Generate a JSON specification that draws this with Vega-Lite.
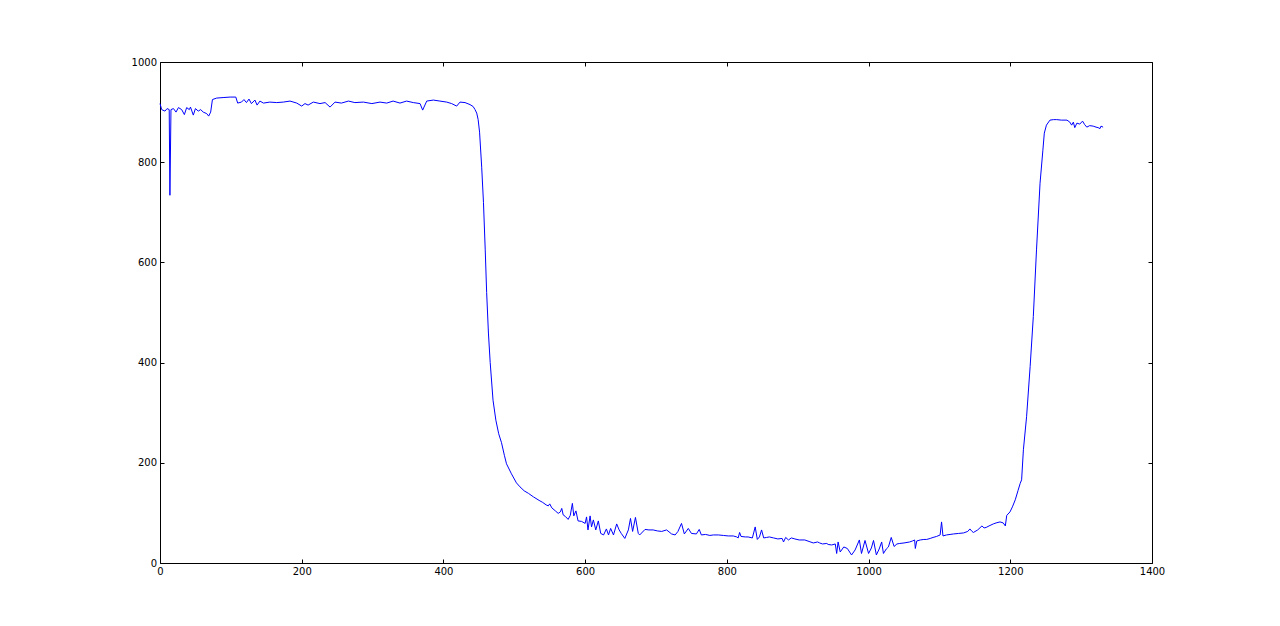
{
  "$schema": "https://vega.github.io/schema/vega-lite/v6.json",
  "autosize": {"type": "none"},
  "width": 992,
  "height": 501,
  "padding": {"left": 160, "top": 62, "right": 128, "bottom": 63},
  "background": "#ffffff",
  "config": {
    "view": {"stroke": "#000000", "strokeWidth": 1},
    "font": "DejaVu Sans",
    "axis": {"grid": false, "domain": false, "tickColor": "#000000", "tickSize": -4, "labelColor": "#000000", "labelFont": "DejaVu Sans", "labelFontSize": 10, "labelFlush": false, "labelOverlap": false, "title": null, "format": "d"}
  },
  "data": {"values": [
    {"x":0,"y":917},{"x":2.4,"y":905},{"x":7,"y":902},{"x":10,"y":907},{"x":13,"y":905},{"x":14,"y":734},{"x":15.5,"y":905},{"x":19,"y":907},{"x":22.6,"y":900},{"x":26,"y":909},{"x":30.6,"y":905},{"x":34.4,"y":895},{"x":37.6,"y":909},{"x":41.4,"y":905},{"x":43,"y":910},{"x":47,"y":894},{"x":50,"y":907},{"x":54,"y":902},{"x":57.4,"y":905},{"x":61,"y":900},{"x":65.9,"y":897},{"x":68.7,"y":892},{"x":71.5,"y":900},{"x":74,"y":925},{"x":80,"y":928},{"x":89,"y":929},{"x":99,"y":930},{"x":107,"y":930},{"x":109.6,"y":918},{"x":115,"y":920},{"x":118.5,"y":925},{"x":122,"y":919},{"x":125.6,"y":926},{"x":129,"y":917},{"x":134,"y":924},{"x":137,"y":914},{"x":141,"y":922},{"x":146,"y":918},{"x":155,"y":920},{"x":164.7,"y":919},{"x":174,"y":920},{"x":183.5,"y":922},{"x":193,"y":918},{"x":200,"y":912},{"x":204.6,"y":917},{"x":209,"y":914},{"x":216.4,"y":920},{"x":225.8,"y":917},{"x":233,"y":919},{"x":240,"y":910},{"x":247,"y":920},{"x":256,"y":918},{"x":266,"y":922},{"x":275,"y":919},{"x":287,"y":920},{"x":299,"y":917},{"x":310.5,"y":920},{"x":320,"y":918},{"x":329,"y":922},{"x":338.7,"y":918},{"x":348,"y":922},{"x":357.5,"y":919},{"x":367,"y":917},{"x":370.7,"y":904},{"x":376.4,"y":922},{"x":385.8,"y":924},{"x":395,"y":922},{"x":404.6,"y":920},{"x":411.6,"y":917},{"x":418.7,"y":912},{"x":423.4,"y":920},{"x":430.5,"y":919},{"x":437.5,"y":915},{"x":442,"y":911},{"x":444.6,"y":905},{"x":447,"y":898},{"x":449,"y":885},{"x":451,"y":860},{"x":454,"y":790},{"x":456.5,"y":720},{"x":459,"y":625},{"x":461,"y":540},{"x":463.5,"y":459},{"x":466,"y":400},{"x":470,"y":325},{"x":474,"y":285},{"x":478,"y":258},{"x":482,"y":240},{"x":486,"y":215},{"x":489,"y":198},{"x":496,"y":178},{"x":503,"y":160},{"x":508,"y":152},{"x":514,"y":144},{"x":520,"y":139},{"x":527,"y":132},{"x":535,"y":125},{"x":540,"y":121},{"x":545,"y":116},{"x":548,"y":114},{"x":550,"y":118},{"x":553,"y":110},{"x":558,"y":104},{"x":562,"y":99},{"x":565,"y":102},{"x":567,"y":109},{"x":569,"y":96},{"x":572,"y":93},{"x":576,"y":87},{"x":579,"y":95},{"x":582,"y":119},{"x":584,"y":94},{"x":587,"y":104},{"x":590,"y":84},{"x":595,"y":83},{"x":600,"y":79},{"x":602,"y":92},{"x":604,"y":66},{"x":607,"y":94},{"x":609,"y":72},{"x":611.6,"y":86},{"x":615,"y":66},{"x":618.6,"y":84},{"x":622,"y":59},{"x":626,"y":56},{"x":630,"y":68},{"x":633,"y":56},{"x":636,"y":69},{"x":640,"y":56},{"x":644.5,"y":78},{"x":648,"y":66},{"x":651,"y":59},{"x":656,"y":49},{"x":661,"y":66},{"x":664,"y":89},{"x":667,"y":63},{"x":671,"y":91},{"x":675,"y":59},{"x":677,"y":56},{"x":684.5,"y":67},{"x":690,"y":66},{"x":696,"y":66},{"x":702,"y":64},{"x":708,"y":63},{"x":715,"y":66},{"x":722,"y":58},{"x":727,"y":56},{"x":731,"y":63},{"x":736,"y":79},{"x":740,"y":58},{"x":745.6,"y":69},{"x":750,"y":59},{"x":757,"y":58},{"x":761,"y":67},{"x":764,"y":56},{"x":770,"y":57},{"x":776,"y":55},{"x":781,"y":56},{"x":788,"y":56},{"x":795,"y":55},{"x":802,"y":54},{"x":809,"y":54},{"x":814,"y":52},{"x":816,"y":50},{"x":818,"y":61},{"x":820,"y":53},{"x":826,"y":52},{"x":830,"y":52},{"x":836,"y":50},{"x":840,"y":72},{"x":843,"y":47},{"x":846,"y":52},{"x":849,"y":66},{"x":852,"y":50},{"x":856,"y":51},{"x":860,"y":52},{"x":866,"y":50},{"x":872,"y":48},{"x":878,"y":49},{"x":880,"y":42},{"x":883,"y":51},{"x":887,"y":46},{"x":891,"y":50},{"x":896,"y":48},{"x":902,"y":46},{"x":910,"y":46},{"x":916,"y":43},{"x":922,"y":40},{"x":928,"y":42},{"x":931,"y":40},{"x":935,"y":38},{"x":941,"y":39},{"x":943,"y":37},{"x":948,"y":36},{"x":953,"y":38},{"x":955,"y":19},{"x":957,"y":42},{"x":960,"y":22},{"x":965,"y":32},{"x":970,"y":29},{"x":976,"y":16},{"x":981,"y":26},{"x":987,"y":46},{"x":990,"y":19},{"x":995,"y":45},{"x":1000,"y":19},{"x":1004,"y":30},{"x":1007,"y":45},{"x":1011,"y":16},{"x":1015,"y":28},{"x":1018.5,"y":42},{"x":1021,"y":19},{"x":1025,"y":28},{"x":1028,"y":32},{"x":1032,"y":51},{"x":1036,"y":33},{"x":1040,"y":38},{"x":1044,"y":39},{"x":1050,"y":40},{"x":1058,"y":42},{"x":1062,"y":44},{"x":1065,"y":46},{"x":1066,"y":29},{"x":1068,"y":44},{"x":1073,"y":46},{"x":1078,"y":47},{"x":1082,"y":47},{"x":1087,"y":49},{"x":1091,"y":51},{"x":1096,"y":53},{"x":1101,"y":56},{"x":1103,"y":82},{"x":1105,"y":54},{"x":1110,"y":56},{"x":1115,"y":57},{"x":1120,"y":58},{"x":1127,"y":59},{"x":1134,"y":60},{"x":1140,"y":63},{"x":1143,"y":68},{"x":1146,"y":63},{"x":1148,"y":61},{"x":1154,"y":66},{"x":1160,"y":74},{"x":1163,"y":70},{"x":1166,"y":71},{"x":1170,"y":74},{"x":1176,"y":78},{"x":1180,"y":80},{"x":1185.5,"y":82},{"x":1190,"y":80},{"x":1193,"y":74},{"x":1195,"y":95},{"x":1199.6,"y":102},{"x":1203,"y":112},{"x":1207,"y":126},{"x":1211,"y":145},{"x":1214,"y":159},{"x":1216,"y":166},{"x":1218.5,"y":226},{"x":1223,"y":292},{"x":1228,"y":392},{"x":1232.5,"y":492},{"x":1237,"y":625},{"x":1242,"y":758},{"x":1246,"y":824},{"x":1248,"y":858},{"x":1251,"y":874},{"x":1256,"y":884},{"x":1261,"y":885},{"x":1265.5,"y":885},{"x":1272,"y":884},{"x":1280,"y":884},{"x":1284,"y":880},{"x":1286.6,"y":874},{"x":1289,"y":880},{"x":1291,"y":869},{"x":1294,"y":878},{"x":1298,"y":876},{"x":1302,"y":882},{"x":1305,"y":875},{"x":1308,"y":870},{"x":1312,"y":873},{"x":1317,"y":872},{"x":1321,"y":870},{"x":1324,"y":869},{"x":1326.6,"y":867},{"x":1328,"y":872},{"x":1331,"y":870}
  ]},
  "layer": [
    {
      "mark": {"type": "line", "color": "#0000ff", "strokeWidth": 1, "interpolate": "linear"},
      "encoding": {
        "x": {"field": "x", "type": "quantitative", "scale": {"domain": [0, 1400], "nice": false, "zero": false}, "axis": {"orient": "bottom", "values": [0,200,400,600,800,1000,1200,1400], "labelPadding": 7}},
        "y": {"field": "y", "type": "quantitative", "scale": {"domain": [0, 1000], "nice": false, "zero": false}, "axis": {"orient": "left", "values": [0,200,400,600,800,1000], "labelPadding": 7.5}}
      }
    },
    {
      "mark": {"type": "line", "strokeOpacity": 0},
      "encoding": {
        "x": {"field": "x", "type": "quantitative", "scale": {"domain": [0, 1400], "nice": false, "zero": false}, "axis": {"orient": "top", "values": [0,200,400,600,800,1000,1200,1400], "labels": false}},
        "y": {"field": "y", "type": "quantitative", "scale": {"domain": [0, 1000], "nice": false, "zero": false}, "axis": {"orient": "right", "values": [0,200,400,600,800,1000], "labels": false}}
      }
    }
  ],
  "resolve": {"axis": {"x": "independent", "y": "independent"}}
}
